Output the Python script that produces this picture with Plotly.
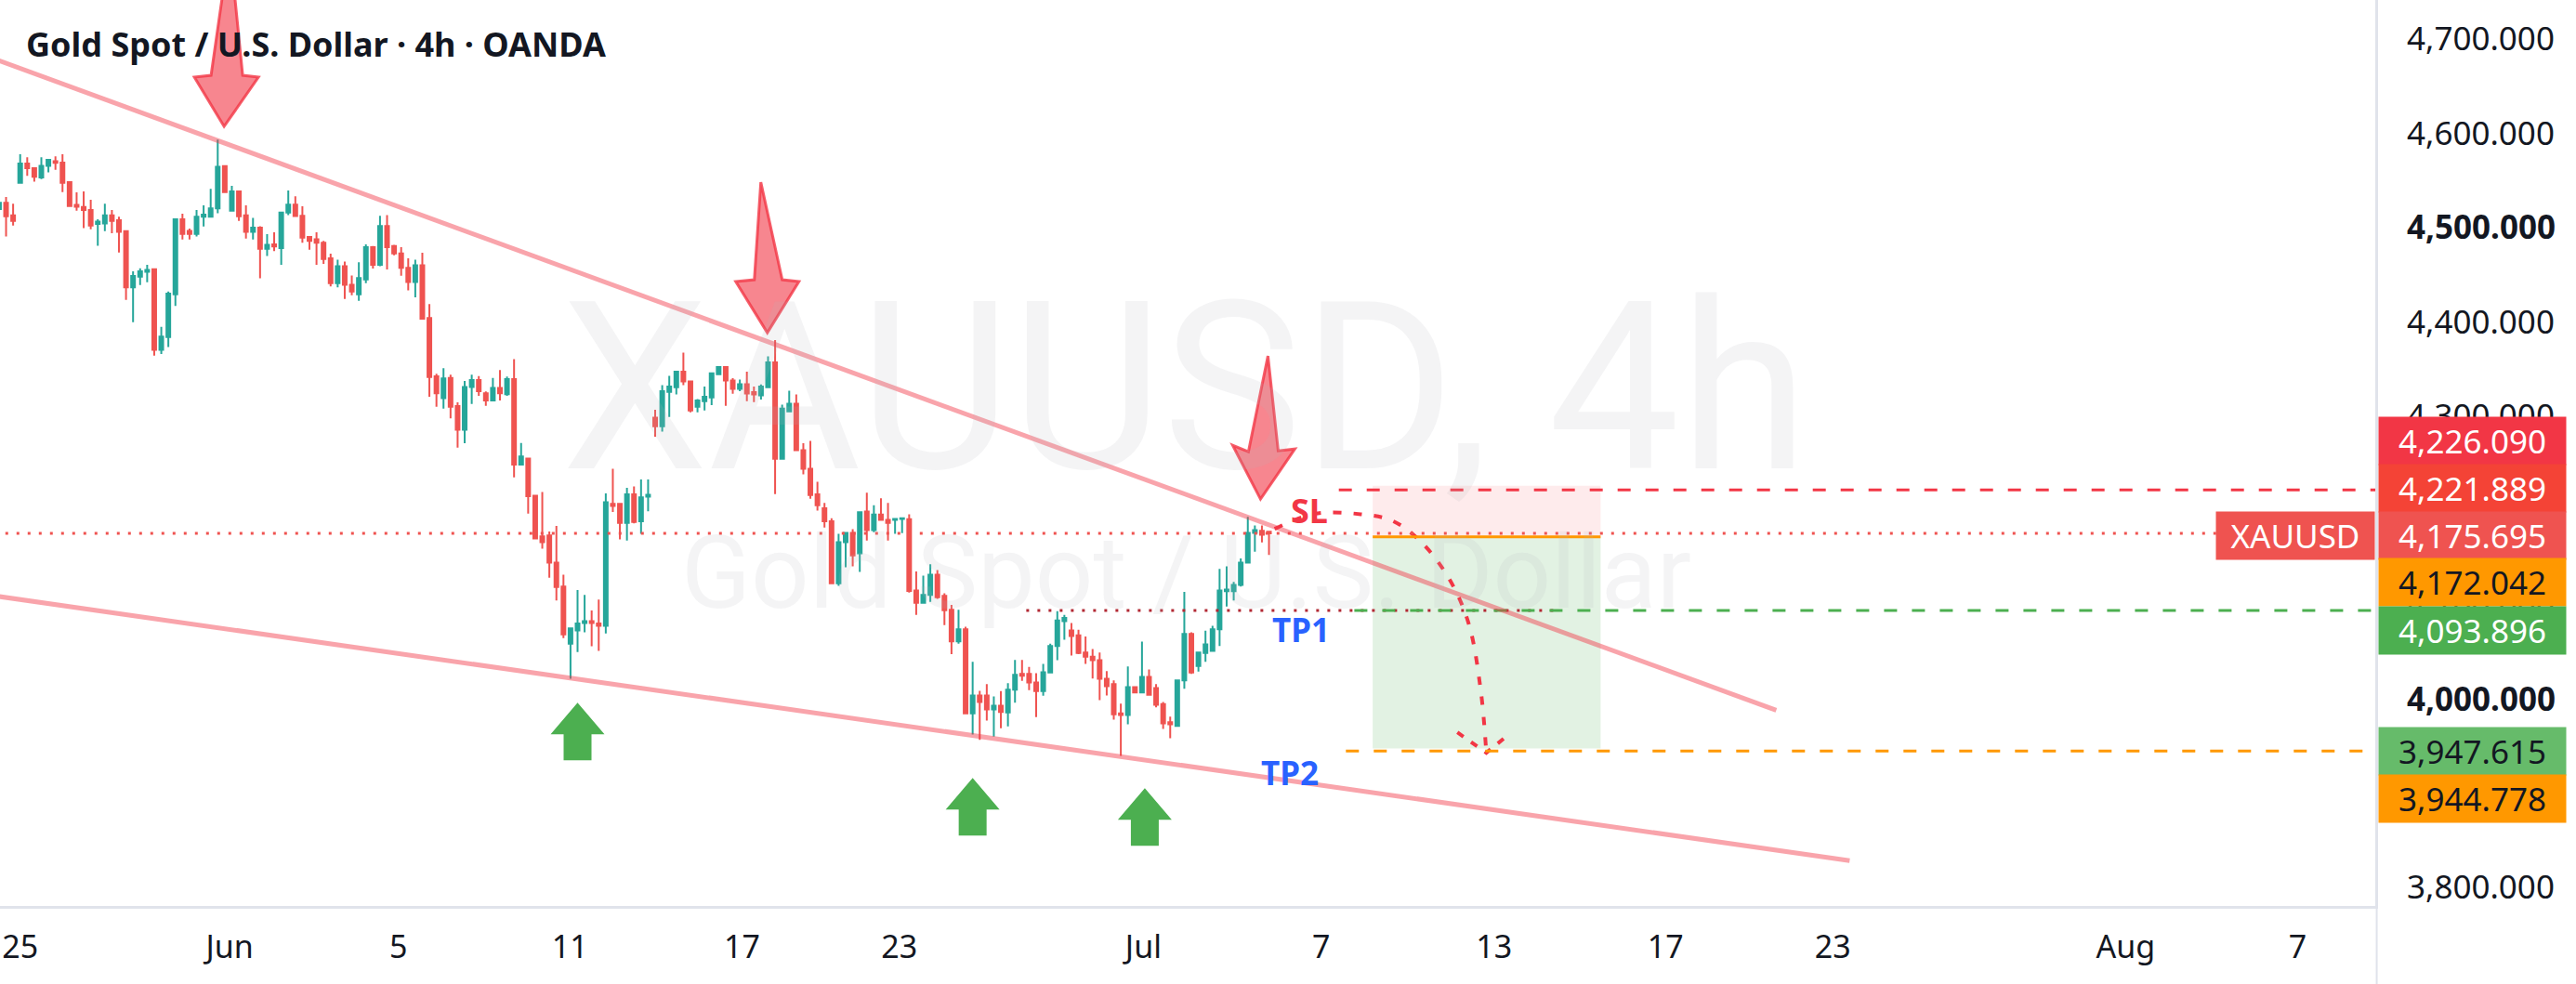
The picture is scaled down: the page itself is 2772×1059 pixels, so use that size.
import plotly.graph_objects as go

# ---------------- data (4h bars, index 0 = first bar of 25 May) ----------------
bar_index = list(range(-3, 178))

opens = [4519.6, 4526.2, 4513.0,
4547.5, 4567.9, 4563.0, 4553.1, 4565.6, 4570.5, 4568.9, 4548.2, 4524.2, 4521.9,
4518.6, 4503.8, 4504.5, 4513.0, 4507.8, 4496.3, 4436.5, 4448.0, 4453.2, 4455.8,
4370.4, 4383.9, 4429.2, 4508.7, 4496.6, 4493.3, 4511.4, 4511.4, 4520.3, 4565.3,
4517.9, 4538.3, 4513.0, 4495.6, 4499.9, 4477.5, 4482.3, 4478.3, 4516.0, 4524.3,
4512.6, 4490.0, 4487.6, 4484.0, 4467.3, 4441.0, 4459.0, 4439.3, 4429.3, 4445.0,
4479.3, 4460.6, 4501.6, 4480.6, 4472.6, 4457.3, 4442.3, 4460.0, 4404.0, 4342.3,
4319.0, 4340.6, 4310.6, 4285.6, 4331.0, 4338.3, 4324.3, 4316.6, 4330.0, 4323.3,
4339.3, 4248.6, 4255.0, 4215.7, 4172.6, 4173.6, 4144.7, 4119.4, 4058.6, 4072.7,
4080.6, 4082.6, 4080.0, 4077.7, 4207.1, 4207.1, 4186.8, 4217.0, 4188.4, 4214.7,
4298.5, 4289.3, 4325.7, 4330.7, 4347.1, 4336.9, 4310.0, 4315.9, 4319.8, 4344.5,
4352.0, 4337.9, 4329.0, 4334.0, 4325.4, 4322.1, 4330.7, 4357.0, 4254.8, 4305.0,
4313.3, 4264.0, 4244.3, 4217.0, 4202.2, 4188.4, 4122.7, 4166.4, 4176.2, 4154.5,
4198.9, 4179.2, 4195.6, 4190.0, 4190.0, 4191.0, 4190.7, 4115.1, 4102.0, 4110.5,
4131.9, 4109.5, 4094.7, 4061.2, 4074.0, 3984.7, 4003.7, 4003.7, 3988.9, 3992.9,
3985.7, 4010.0, 4026.7, 4026.7, 4017.5, 4008.3, 4028.0, 4056.3, 4082.6, 4072.7,
4067.5, 4049.4, 4044.8, 4041.2, 4021.5, 4015.9, 3984.7, 3983.0, 4012.6, 4007.0,
4023.4, 4011.6, 3994.5, 3975.4, 3971.5, 4019.8, 4069.1, 4034.9, 4048.7, 4051.0,
4074.0, 4114.4, 4114.4, 4121.0, 4144.7, 4176.2, 4178.5, 4177.5]

highs = [4527.0, 4532.4, 4525.2,
4577.8, 4574.5, 4563.9, 4574.5, 4572.8, 4575.5, 4577.8, 4548.2, 4537.3, 4538.3,
4529.4, 4508.7, 4525.2, 4518.6, 4511.4, 4496.3, 4453.5, 4456.8, 4460.4, 4456.8,
4394.7, 4432.2, 4508.7, 4514.7, 4498.9, 4518.6, 4523.5, 4541.0, 4593.2, 4566.3,
4544.2, 4539.0, 4523.5, 4510.4, 4501.5, 4493.0, 4495.0, 4516.6, 4539.3, 4533.3,
4522.6, 4491.0, 4495.0, 4486.0, 4472.3, 4466.0, 4464.0, 4449.3, 4463.3, 4482.3,
4480.6, 4512.6, 4513.3, 4481.6, 4479.3, 4467.3, 4466.0, 4473.3, 4419.0, 4345.0,
4351.0, 4344.0, 4314.6, 4337.3, 4344.0, 4342.6, 4326.3, 4340.6, 4349.0, 4342.0,
4360.6, 4271.6, 4255.0, 4216.0, 4219.6, 4177.6, 4183.5, 4131.9, 4076.0, 4115.5,
4110.5, 4093.8, 4105.6, 4218.0, 4244.3, 4208.1, 4223.9, 4225.5, 4232.8, 4232.8,
4306.7, 4333.0, 4342.8, 4347.1, 4367.5, 4336.9, 4318.2, 4331.3, 4346.1, 4352.7,
4352.0, 4340.2, 4338.9, 4347.1, 4331.3, 4333.6, 4363.5, 4380.6, 4312.3, 4327.0,
4323.1, 4271.2, 4273.8, 4230.4, 4208.1, 4191.7, 4175.2, 4176.9, 4180.2, 4199.2,
4218.9, 4205.5, 4213.0, 4208.1, 4191.7, 4192.3, 4195.9, 4135.2, 4130.9, 4143.0,
4136.8, 4112.2, 4099.7, 4094.7, 4076.6, 4039.5, 4008.6, 4015.9, 4002.7, 4008.5,
4016.9, 4041.5, 4041.5, 4034.0, 4027.4, 4037.2, 4058.6, 4093.1, 4089.2, 4080.6,
4073.4, 4066.2, 4053.0, 4049.4, 4029.7, 4019.8, 3995.2, 4034.6, 4013.5, 4060.9,
4031.3, 4015.9, 3996.8, 3981.4, 4019.8, 4113.5, 4070.8, 4050.4, 4072.4, 4077.6,
4138.1, 4140.7, 4124.3, 4149.0, 4193.3, 4184.1, 4184.1, 4177.8]

lows = [4517.5, 4490.7, 4502.2,
4547.5, 4554.8, 4548.8, 4551.5, 4558.7, 4561.3, 4537.7, 4521.9, 4517.9, 4499.5,
4498.2, 4480.8, 4496.3, 4494.0, 4473.6, 4423.3, 4399.7, 4439.1, 4442.0, 4364.2,
4365.8, 4373.4, 4416.8, 4487.4, 4487.4, 4490.7, 4501.2, 4511.4, 4515.3, 4537.7,
4517.9, 4507.1, 4488.4, 4487.4, 4446.3, 4470.0, 4475.0, 4460.6, 4513.3, 4512.3,
4484.0, 4476.6, 4460.6, 4461.6, 4437.6, 4436.6, 4424.3, 4428.3, 4422.3, 4441.0,
4456.6, 4459.0, 4455.6, 4470.6, 4449.0, 4433.3, 4426.0, 4402.6, 4320.6, 4310.0,
4308.0, 4297.6, 4266.6, 4271.3, 4313.0, 4321.6, 4311.0, 4316.6, 4316.6, 4321.6,
4235.0, 4247.6, 4196.6, 4169.5, 4159.5, 4128.6, 4104.6, 4064.5, 4021.5, 4049.7,
4070.8, 4056.0, 4051.0, 4069.4, 4198.3, 4169.3, 4168.0, 4186.4, 4175.3, 4199.2,
4278.1, 4283.7, 4299.1, 4323.1, 4333.0, 4304.1, 4304.1, 4306.0, 4311.6, 4344.5,
4311.0, 4323.8, 4326.4, 4315.9, 4314.9, 4317.5, 4330.7, 4217.3, 4254.8, 4305.0,
4264.0, 4238.3, 4212.4, 4199.9, 4181.8, 4122.7, 4120.0, 4139.8, 4140.7, 4134.8,
4168.0, 4176.9, 4190.0, 4168.0, 4175.2, 4175.9, 4112.8, 4089.2, 4102.0, 4103.0,
4106.2, 4078.3, 4047.7, 4058.6, 3984.7, 3962.3, 3956.7, 3977.1, 3960.0, 3968.9,
3970.9, 3996.2, 4019.2, 4009.3, 3980.7, 4003.4, 4027.4, 4041.2, 4062.9, 4046.1,
4047.7, 4037.2, 4021.8, 3998.8, 4003.7, 3978.1, 3939.6, 3973.1, 4006.0, 4007.0,
4004.4, 3991.2, 3968.2, 3958.4, 3971.5, 4010.9, 4026.7, 4029.0, 4039.5, 4051.0,
4056.3, 4098.0, 4104.6, 4119.4, 4144.7, 4156.2, 4166.0, 4152.9]

closes = [4526.2, 4512.0, 4507.1,
4567.9, 4563.0, 4553.8, 4565.6, 4571.8, 4568.6, 4547.5, 4522.9, 4522.2, 4518.6,
4502.2, 4506.4, 4513.0, 4507.1, 4495.6, 4436.5, 4448.6, 4453.5, 4455.2, 4370.4,
4384.5, 4429.9, 4508.7, 4493.3, 4493.3, 4511.4, 4513.7, 4520.3, 4564.6, 4537.7,
4538.3, 4512.0, 4495.6, 4499.9, 4477.5, 4481.8, 4480.0, 4516.0, 4524.3, 4512.3,
4489.3, 4486.0, 4484.0, 4466.6, 4441.0, 4459.0, 4439.3, 4432.3, 4446.6, 4479.3,
4460.6, 4501.6, 4479.3, 4472.6, 4457.3, 4442.3, 4460.0, 4403.3, 4341.6, 4324.3,
4340.0, 4310.0, 4285.6, 4331.0, 4338.3, 4326.6, 4316.6, 4330.0, 4324.3, 4339.3,
4248.6, 4257.3, 4215.0, 4170.3, 4166.4, 4144.7, 4118.7, 4068.5, 4075.0, 4080.0,
4082.6, 4080.6, 4077.7, 4208.8, 4204.8, 4186.8, 4217.0, 4187.7, 4214.0, 4216.7,
4289.3, 4326.4, 4331.3, 4347.1, 4336.9, 4306.0, 4316.6, 4320.5, 4345.5, 4352.0,
4337.9, 4329.0, 4334.0, 4324.1, 4323.1, 4331.3, 4357.0, 4254.8, 4308.0, 4313.3,
4264.0, 4244.3, 4216.3, 4205.5, 4188.4, 4122.7, 4166.4, 4176.2, 4152.2, 4198.2,
4179.2, 4195.6, 4190.0, 4186.7, 4191.0, 4191.7, 4114.5, 4102.0, 4110.5, 4131.9,
4107.9, 4094.1, 4061.2, 4074.0, 3984.7, 4003.7, 3996.8, 3988.9, 3992.9, 3986.3,
4010.0, 4025.7, 4024.7, 4017.5, 4008.3, 4028.4, 4056.3, 4083.2, 4085.9, 4066.8,
4048.7, 4044.8, 4041.2, 4021.5, 4013.6, 3983.7, 3983.0, 4012.6, 4007.0, 4023.4,
4004.4, 3993.9, 3974.1, 3973.1, 4019.8, 4069.1, 4028.0, 4049.4, 4057.9, 4074.0,
4115.1, 4116.1, 4121.0, 4144.7, 4176.2, 4179.2, 4174.3, 4175.695]

date_tick_pos = [0, 29.7, 53.6, 77.9, 102.3, 124.6, 159.2, 184.4, 208.9, 233.2, 256.9, 298.4, 322.8]
date_tick_text = ["25", "Jun", "5", "11", "17", "23", "Jul", "7", "13", "17", "23", "Aug", "7"]

price_ticks = [3800, 3900, 4000, 4100, 4200, 4300, 4400, 4500, 4600, 4700]
price_tick_text = ["3,800.000", "3,900.000", "<b>4,000.000</b>", "4,100.000", "4,200.000",
                   "4,300.000", "4,400.000", "<b>4,500.000</b>", "4,600.000", "4,700.000"]

# drawings (bar index, price)
upper_trend_x = [-3.0, 248.9]
upper_trend_y = [4677.1, 3988.0]
lower_trend_x = [-3.0, 259.3]
lower_trend_y = [4108.7, 3828.6]

down_arrow_tips_x = [28.9, 105.9, 175.8]
down_arrow_tips_y = [4607.3, 4388.5, 4212.0]
up_arrow_tips_x = [79.0, 135.0, 159.4]
up_arrow_tips_y = [3996.1, 3916.3, 3905.5]

last_price = 4175.695
stop_top = 4226.090
sl_price = 4221.889
entry_price = 4172.042
tp1_price = 4093.896
target_price = 3947.615
tp2_price = 3944.778
position_x = [191.7, 224.0]
sl_line_start = 186.9
tp1_line_start = 189.1
tp2_line_start = 187.9
tp1_ray_x = [142.6, 217.4]

curve_x = [177.8, 183.5, 190.0, 194.5, 198.5, 202.5, 205.3, 207.0, 207.8]
curve_y = [4180.5, 4196.5, 4196.0, 4189.0, 4167.0, 4128.0, 4080.0, 4010.0, 3943.0]
head_left = (203.7, 3964.6)
head_right = (211.2, 3963.6)

label_sl = (182.7, 4200.2)
label_tp1 = (181.6, 4073.5)
label_tp2 = (180.0, 3922.2)

tag_prices = [stop_top, sl_price, last_price, entry_price, tp1_price, target_price, tp2_price]
tag_bg = ["#F23645", "#F44336", "#EF5350", "#FF9800", "#4CAF50", "#66BB6A", "#FF9800"]
tag_fg = ["#FFFFFF", "#FFFFFF", "#FFFFFF", "#131722", "#FFFFFF", "#131722", "#131722"]
tag_shift = [48, 2, -2, -49, -21, -3, -51]

# ---------------- figure ----------------
UP = "#26A69A"
DN = "#EF5350"
FONT = "Noto Sans"
TXT = "#131722"

fig = go.Figure()
fig.add_trace(go.Candlestick(
    x=bar_index, open=opens, high=highs, low=lows, close=closes,
    increasing=dict(line=dict(color=UP, width=2), fillcolor=UP),
    decreasing=dict(line=dict(color=DN, width=2), fillcolor=DN),
    whiskerwidth=0, showlegend=False, hoverinfo="skip"))

# dotted curved arrow
fig.add_trace(go.Scatter(x=curve_x, y=curve_y, mode="lines",
                         line=dict(color="#F23645", width=4, dash="9px,13px", shape="spline", smoothing=1.0),
                         showlegend=False, hoverinfo="skip"))
fig.add_trace(go.Scatter(x=[head_left[0], curve_x[-1], head_right[0]],
                         y=[head_left[1], curve_y[-1], head_right[1]], mode="lines",
                         line=dict(color="#F23645", width=4, dash="8px,10px"),
                         showlegend=False, hoverinfo="skip"))

shapes = []
# position tool
shapes.append(dict(type="rect", xref="x", yref="y", x0=position_x[0], x1=position_x[1],
                   y0=entry_price, y1=stop_top, fillcolor="rgba(242,54,69,0.10)", line_width=0, layer="below"))
shapes.append(dict(type="rect", xref="x", yref="y", x0=position_x[0], x1=position_x[1],
                   y0=target_price, y1=entry_price, fillcolor="rgba(76,175,80,0.16)", line_width=0, layer="below"))
# current price dotted line
shapes.append(dict(type="line", xref="x", yref="y", x0=-10, x1=400, y0=last_price, y1=last_price,
                   line=dict(color=DN, width=3, dash="3px,9px")))
# dotted dark-red level
shapes.append(dict(type="line", xref="x", yref="y", x0=tp1_ray_x[0], x1=tp1_ray_x[1], y0=tp1_price, y1=tp1_price,
                   line=dict(color="#B22833", width=3, dash="3px,9px")))
# SL / TP dashed lines
for x0, yv, col in [(sl_line_start, sl_price, "#F23645"), (tp1_line_start, tp1_price, "#4CAF50"),
                    (tp2_line_start, tp2_price, "#FF9800")]:
    shapes.append(dict(type="line", xref="x", yref="y", x0=x0, x1=400, y0=yv, y1=yv,
                       line=dict(color=col, width=3, dash="14px,16px")))
# entry line
shapes.append(dict(type="line", xref="x", yref="y", x0=position_x[0], x1=position_x[1],
                   y0=entry_price, y1=entry_price, line=dict(color="#FF9800", width=3)))
# trendlines
shapes.append(dict(type="line", xref="x", yref="y", x0=upper_trend_x[0], x1=upper_trend_x[1],
                   y0=upper_trend_y[0], y1=upper_trend_y[1], line=dict(color="rgba(242,54,69,0.45)", width=5)))
shapes.append(dict(type="line", xref="x", yref="y", x0=lower_trend_x[0], x1=lower_trend_x[1],
                   y0=lower_trend_y[0], y1=lower_trend_y[1], line=dict(color="rgba(242,54,69,0.45)", width=5)))
# down arrows (pixel-sized paths anchored at tips)
down_paths = ["M 6,195 L 20,55 L 37,53 L 0,0 L -32,53 L -14,55 Z",
              "M -7,162 L 16,57 L 34,55 L 0,0 L -34,55 L -14,57 Z",
              "M 8,154 L 19,52 L 37,54 L 0,0 L -30,58 L -13,51 Z"]
for p, ax, ay in zip(down_paths, down_arrow_tips_x, down_arrow_tips_y):
    shapes.append(dict(type="path", xref="x", yref="y", xsizemode="pixel", ysizemode="pixel",
                       xanchor=ax, yanchor=ay, path=p, fillcolor="rgba(242,54,69,0.6)",
                       line=dict(color="rgba(242,54,69,0.8)", width=3)))
up_path = "M 0,0 L 29,-34 L 15,-34 L 15,-62 L -15,-62 L -15,-34 L -29,-34 Z"
for ax, ay in zip(up_arrow_tips_x, up_arrow_tips_y):
    shapes.append(dict(type="path", xref="x", yref="y", xsizemode="pixel", ysizemode="pixel",
                       xanchor=ax, yanchor=ay, path=up_path, fillcolor="#4CAF50", line=dict(width=0)))
# separator below price axis
shapes.append(dict(type="line", xref="paper", yref="paper", x0=1.0006, x1=1.0006, y0=0, y1=-0.1,
                   line=dict(color="#E0E3EB", width=2)))

annotations = []
# watermark
annotations.append(dict(xref="paper", yref="paper", x=0.4990, y=0.5713, text="XAUUSD, 4h", showarrow=False,
                        font=dict(family="Roboto", size=252, color="rgba(178,181,190,0.15)"),
                        xanchor="center", yanchor="middle"))
annotations.append(dict(xref="paper", yref="paper", x=0.4996, y=0.3682, text="Gold Spot / U.S. Dollar",
                        showarrow=False, font=dict(family="Roboto", size=110, color="rgba(178,181,190,0.15)"),
                        xanchor="center", yanchor="middle"))
# title
annotations.append(dict(xref="paper", yref="paper", x=0.0102, y=0.9508, xanchor="left", yanchor="middle",
                        text="<b>Gold Spot / U.S. Dollar · 4h · OANDA</b>", showarrow=False,
                        font=dict(family=FONT, size=36, color=TXT)))
# SL / TP labels
annotations.append(dict(x=label_sl[0], y=label_sl[1], text="<b>SL</b>", showarrow=False,
                        font=dict(family=FONT, size=36, color="#F23645")))
annotations.append(dict(x=label_tp1[0], y=label_tp1[1], text="<b>TP1</b>", showarrow=False,
                        font=dict(family=FONT, size=35, color="#2962FF")))
annotations.append(dict(x=label_tp2[0], y=label_tp2[1], text="<b>TP2</b>", showarrow=False,
                        font=dict(family=FONT, size=35, color="#2962FF")))
# price tags
for pv, bg, fg, sh in zip(tag_prices, tag_bg, tag_fg, tag_shift):
    annotations.append(dict(xref="paper", yref="y", x=1, xanchor="left", xshift=3, y=pv, yshift=sh,
                            yanchor="middle", text=f"{pv:,.3f}", showarrow=False, bgcolor=bg,
                            width=201, height=51, borderpad=0, align="center",
                            font=dict(family=FONT, size=35, color=fg)))
annotations.append(dict(xref="paper", yref="y", x=1, xanchor="right", xshift=0, y=last_price, yshift=-2,
                        yanchor="middle", text="XAUUSD", showarrow=False, bgcolor="#EF5350",
                        width=170, height=51, borderpad=0, align="center",
                        font=dict(family=FONT, size=35, color="#FFFFFF")))

fig.update_layout(
    width=2772, height=1059,
    margin=dict(l=0, r=216, t=0, b=84),
    paper_bgcolor="white", plot_bgcolor="white",
    boxgap=0.25, hovermode=False, showlegend=False,
    shapes=shapes, annotations=annotations,
    xaxis=dict(range=[-2.86, 333.8], tickvals=date_tick_pos, ticktext=date_tick_text,
               showgrid=False, zeroline=False, showline=True, linecolor="#E0E3EB", linewidth=3,
               ticks="", ticklabelstandoff=12, tickfont=dict(family=FONT, size=34, color=TXT),
               rangeslider=dict(visible=False), fixedrange=True),
    yaxis=dict(side="right", range=[3780.5, 4741.4], tickvals=price_ticks, ticktext=price_tick_text,
               showgrid=False, zeroline=False, showline=True, linecolor="#E0E3EB", linewidth=3,
               ticks="", ticklabelstandoff=24, tickfont=dict(family=FONT, size=35, color=TXT),
               fixedrange=True),
)

fig.write_html("out.html", config={"displayModeBar": False})
